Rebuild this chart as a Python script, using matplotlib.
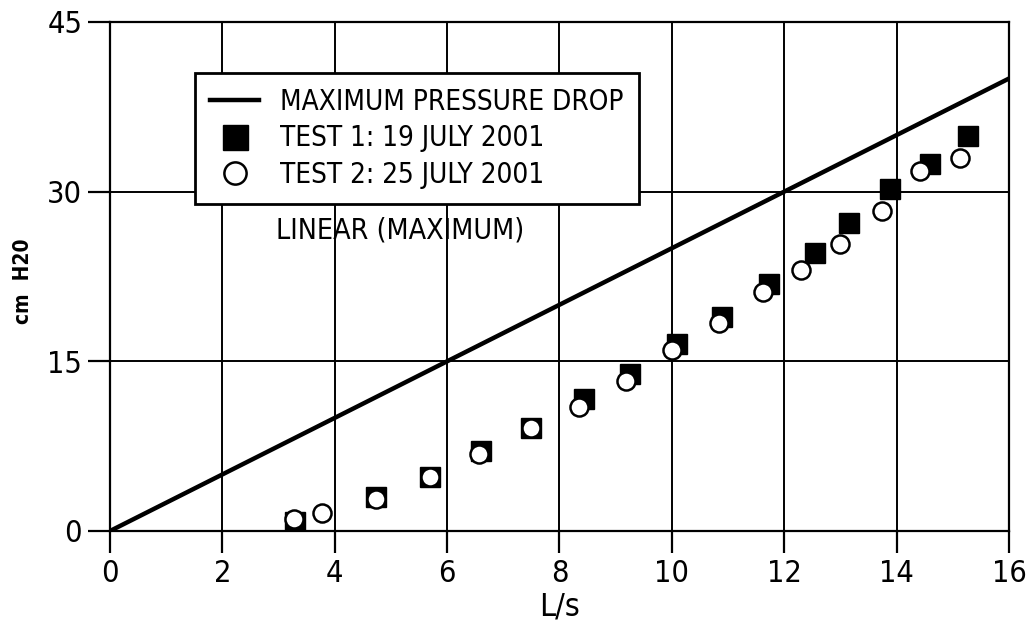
import numpy as np
import matplotlib
matplotlib.use("Agg")
import matplotlib.pyplot as pp
from matplotlib.lines import Line2D

pp.rcParams['font.family'] = ['DejaVu Sans']
pp.rcParams['font.stretch'] = 'condensed'

# maximum pressure drop line (linear)
maxFlow = [0, 16]
maxDrop = [0, 40]

# test 1: 19 july 2001 (filled squares)
test1Flow = [3.29, 4.73, 5.69, 6.60, 7.49, 8.43, 9.25, 10.09, 10.89, 11.73, 12.55, 13.15, 13.89, 14.60, 15.27]
test1Drop = [0.8, 3.0, 4.8, 7.1, 9.1, 11.7, 13.9, 16.5, 18.9, 21.8, 24.6, 27.2, 30.2, 32.4, 34.9]

# test 2: 25 july 2001 (open circles)
test2Flow = [3.28, 3.77, 4.73, 5.69, 6.56, 7.49, 8.35, 9.18, 10.01, 10.83, 11.63, 12.30, 13.00, 13.74, 14.42, 15.13]
test2Drop = [1.1, 1.6, 2.8, 4.8, 6.8, 9.1, 11.0, 13.3, 16.0, 18.4, 21.1, 23.1, 25.4, 28.3, 31.8, 33.0]

xTicks = [0, 2, 4, 6, 8, 10, 12, 14, 16]
yTicks = [0, 15, 30, 45]

fig = pp.figure(figsize=(10.34, 6.35), dpi=100)
ax = fig.add_axes([0.1064, 0.1638, 0.8694, 0.8016])

ax.plot(maxFlow, maxDrop, color='black', linewidth=3.2, solid_capstyle='butt', zorder=3)
ax.plot(test1Flow, test1Drop, linestyle='none', marker='s', markersize=14,
        markerfacecolor='black', markeredgecolor='black', zorder=4)
ax.plot(test2Flow, test2Drop, linestyle='none', marker='o', markersize=13,
        markerfacecolor='white', markeredgecolor='black', markeredgewidth=1.8, zorder=5)

ax.set_xlim(0, 16)
ax.set_ylim(0, 45)
ax.set_xticks(xTicks)
ax.set_yticks(yTicks)
ax.grid(True, color='black', linewidth=1.4)
ax.set_axisbelow(True)
for s in ax.spines.values():
    s.set_linewidth(1.6)
ax.tick_params(direction='out', length=16, width=1.6, labelsize=22, pad=4)

ax.set_xlabel('L/s', fontsize=23, labelpad=3)
ax.set_ylabel('cm  H20', fontsize=15, fontweight='bold')
ax.yaxis.set_label_coords(-0.086, 0.49)

handles = [
    Line2D([], [], color='black', linewidth=3.2),
    Line2D([], [], linestyle='none', marker='s', markersize=18, markerfacecolor='black', markeredgecolor='black'),
    Line2D([], [], linestyle='none', marker='o', markersize=16, markerfacecolor='white',
           markeredgecolor='black', markeredgewidth=1.8),
]
labels = ['MAXIMUM PRESSURE DROP', 'TEST 1: 19 JULY 2001', 'TEST 2: 25 JULY 2001']
leg = ax.legend(handles, labels, loc='upper left', bbox_to_anchor=(0.0946, 0.90),
                borderaxespad=0, fancybox=False, framealpha=1, edgecolor='black',
                fontsize=20, handlelength=1.75, handletextpad=0.75, labelspacing=0.3,
                borderpad=0.55)
leg.get_frame().set_linewidth(2)
leg.set_zorder(6)

ax.text(0.1847, 0.591, 'LINEAR (MAXIMUM)', transform=ax.transAxes, fontsize=20.5,
        va='center', ha='left', zorder=6)

fig.savefig('out.png', dpi=100, facecolor='white')
